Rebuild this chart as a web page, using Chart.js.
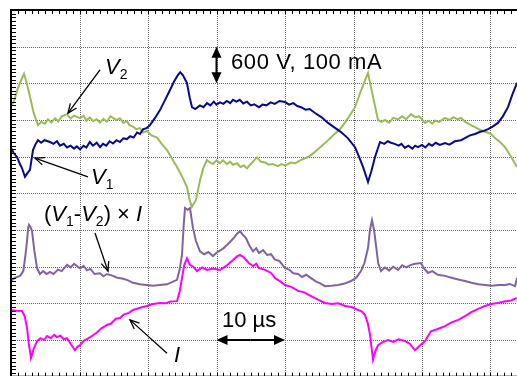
<!DOCTYPE html>
<html>
<head>
<meta charset="utf-8">
<script src="https://cdn.jsdelivr.net/npm/chart.js@4/dist/chart.umd.min.js"></script>
<style>
  html, body { margin: 0; padding: 0; overflow: hidden; background: #fff; }
  #wrap { position: relative; width: 517px; height: 376px; overflow: hidden; }
  #chart { position: absolute; left: 0; top: 0; }
  .lbl { position: absolute; font-family: "Liberation Sans", Arial, sans-serif; font-size: 22px;
         line-height: 1; color: #000; white-space: nowrap; }
  .it { font-style: italic; }
  .sub { font-size: 14px; position: relative; top: 5px; font-style: normal; }
</style>
</head>
<body>
<div id="wrap">
  <canvas id="chart" width="700" height="382"></canvas>
  <div class="lbl" style="left:231px; top:51px; letter-spacing:0.6px;">600 V, 100 mA</div>
  <div class="lbl" style="left:222px; top:309px;">10 µs</div>
  <div class="lbl" style="left:105px; top:56px;"><span class="it">V</span><span class="sub">2</span></div>
  <div class="lbl" style="left:91px; top:166px;"><span class="it">V</span><span class="sub">1</span></div>
  <div class="lbl" style="left:44px; top:203px;">(<span class="it">V</span><span class="sub">1</span>-<span class="it">V</span><span class="sub">2</span>) × <span class="it">I</span></div>
  <div class="lbl it" style="left:174px; top:344px;">I</div>
</div>
<script>
// scope traces: time in µs, amplitude in divisions (0 = screen centre)
const v2Time = [0, 0.5, 0.92, 1.4, 1.9, 2.3, 2.77, 3.3, 3.94, 4.4, 4.96, 5.4, 5.9, 6.42, 6.9, 7.4, 8.18, 8.7, 9.2, 10.07, 10.6, 11.0, 11.5, 12.0, 12.5, 12.99, 13.5, 14.0, 14.5, 14.89, 15.4, 15.9, 16.4, 16.93, 17.3, 17.81, 18.3, 18.8, 19.3, 19.85, 20.5, 21.31, 22.0, 22.77, 23.5, 24.23, 25.0, 25.69, 26.1, 26.42, 27.0, 27.6, 28.1, 28.6, 29.0, 29.49, 30.0, 30.5, 30.95, 31.5, 32.0, 32.4, 33.0, 33.5, 34.0, 34.45, 35.0, 35.5, 35.9, 36.5, 37.1, 37.6, 38.2, 38.98, 39.5, 40.0, 40.88, 41.5, 42.2, 43.36, 44.0, 44.8, 45.84, 47.0, 48.18, 49.2, 50.22, 51.0, 51.68, 52.12, 52.85, 53.58, 54.1, 54.6, 55.2, 55.8, 56.5, 57.1, 57.7, 58.4, 59.0, 59.6, 60.44, 61.0, 61.5, 61.9, 62.5, 63.36, 64.0, 64.6, 65.2, 65.69, 66.3, 67.15, 67.8, 68.61, 69.3, 70.07, 70.7, 71.4, 72.12, 73.0, 73.87];
const v2Div = [2.35, 2.55, 2.82, 3.05, 3.26, 3.0, 2.64, 2.2, 1.86, 1.95, 1.9, 2.02, 1.93, 2.05, 1.96, 2.1, 2.16, 2.04, 2.12, 2.05, 2.12, 1.98, 2.07, 1.97, 2.02, 1.93, 2.03, 1.95, 2.1, 2.06, 2.0, 2.05, 1.92, 1.97, 1.86, 1.82, 1.75, 1.78, 1.66, 1.7, 1.58, 1.52, 1.35, 1.18, 0.95, 0.72, 0.45, 0.17, -0.2, -0.37, -0.18, 0.36, 0.7, 0.91, 0.85, 0.8, 0.9, 0.82, 0.9, 0.8, 0.86, 0.78, 0.82, 0.72, 0.76, 0.68, 0.8, 0.9, 0.98, 0.86, 0.84, 0.78, 0.8, 0.74, 0.8, 0.76, 0.84, 0.82, 0.9, 0.99, 1.07, 1.2, 1.37, 1.58, 1.78, 2.05, 2.35, 2.75, 3.09, 3.28, 2.63, 2.0, 1.95, 2.0, 1.93, 2.06, 2.02, 2.1, 2.02, 2.16, 2.08, 2.1, 1.92, 1.98, 1.9, 1.98, 1.95, 2.06, 2.0, 2.08, 2.02, 2.06, 1.95, 1.86, 1.8, 1.72, 1.68, 1.62, 1.5, 1.4, 1.26, 1.0, 0.72];

const v1Time = [0, 0.4, 0.88, 1.3, 1.6, 2.04, 2.4, 2.77, 3.21, 3.6, 3.94, 4.4, 4.9, 5.69, 6.2, 6.7, 7.15, 7.7, 8.18, 8.7, 9.2, 9.6, 10.07, 10.6, 11.0, 11.5, 11.97, 12.5, 13.0, 13.43, 13.9, 14.4, 14.89, 15.4, 15.9, 16.4, 16.93, 17.4, 17.9, 18.4, 18.83, 19.3, 19.8, 20.29, 21.0, 21.75, 22.5, 23.21, 23.8, 24.38, 24.7, 25.11, 25.69, 26.1, 26.42, 26.9, 27.59, 28.1, 28.61, 29.1, 29.6, 30.0, 30.5, 31.0, 31.5, 32.0, 32.41, 32.9, 33.4, 33.9, 34.45, 35.0, 35.5, 36.2, 36.7, 37.3, 37.9, 38.5, 39.2, 40.0, 40.6, 41.2, 41.8, 42.34, 43.0, 43.6, 44.38, 45.3, 46.28, 47.2, 48.18, 49.2, 50.22, 50.8, 51.39, 52.12, 52.6, 53.14, 53.87, 54.5, 55.0, 55.47, 56.0, 56.6, 57.0, 57.5, 58.0, 58.6, 59.0, 59.42, 60.0, 60.5, 61.0, 61.46, 62.0, 62.6, 63.36, 64.0, 64.8, 65.69, 66.4, 67.0, 67.74, 68.5, 69.0, 69.64, 70.3, 71.09, 71.8, 72.55, 73.2, 73.87];
const v1Div = [1.24, 1.1, 0.99, 0.8, 0.69, 0.45, 0.55, 0.64, 1.18, 1.35, 1.45, 1.38, 1.45, 1.4, 1.35, 1.42, 1.3, 1.35, 1.25, 1.3, 1.22, 1.28, 1.2, 1.3, 1.25, 1.4, 1.3, 1.38, 1.26, 1.35, 1.3, 1.42, 1.36, 1.45, 1.4, 1.5, 1.48, 1.56, 1.52, 1.66, 1.62, 1.75, 1.78, 1.86, 2.05, 2.27, 2.55, 2.82, 3.05, 3.23, 3.3, 3.22, 3.01, 2.6, 2.35, 2.3, 2.4, 2.35, 2.46, 2.4, 2.5, 2.42, 2.48, 2.44, 2.52, 2.46, 2.55, 2.5, 2.55, 2.45, 2.5, 2.4, 2.43, 2.35, 2.42, 2.4, 2.48, 2.44, 2.52, 2.49, 2.42, 2.46, 2.38, 2.35, 2.28, 2.3, 2.19, 2.08, 1.92, 1.8, 1.67, 1.5, 1.26, 1.0, 0.72, 0.31, 0.6, 0.99, 1.4, 1.35, 1.42, 1.38, 1.35, 1.3, 1.35, 1.24, 1.3, 1.22, 1.3, 1.26, 1.32, 1.25, 1.35, 1.3, 1.38, 1.32, 1.37, 1.33, 1.42, 1.45, 1.52, 1.58, 1.62, 1.68, 1.7, 1.75, 1.82, 1.92, 2.1, 2.35, 2.7, 3.01];

const powTime = [0, 0.6, 1.31, 1.8, 2.1, 2.34, 2.5, 2.63, 2.85, 3.07, 3.4, 3.8, 4.23, 4.7, 5.2, 5.69, 6.2, 6.86, 7.4, 8.18, 8.7, 9.2, 9.64, 10.1, 10.6, 11.09, 11.6, 12.2, 12.99, 13.5, 14.0, 14.89, 15.5, 16.2, 16.93, 17.8, 18.83, 19.7, 20.73, 21.7, 22.77, 23.5, 24.23, 24.6, 24.96, 25.2, 25.4, 25.8, 26.13, 26.57, 27.0, 27.59, 28.2, 28.8, 29.49, 30.0, 30.6, 31.0, 31.53, 32.0, 32.6, 33.0, 33.43, 33.8, 34.3, 34.8, 35.33, 35.8, 36.2, 36.8, 37.4, 37.96, 38.5, 39.2, 40.0, 40.6, 41.2, 41.9, 42.5, 43.1, 43.8, 44.5, 45.2, 45.84, 46.8, 47.74, 48.7, 49.64, 50.4, 51.09, 51.6, 52.12, 52.4, 52.7, 53.0, 53.28, 53.6, 54.0, 54.6, 55.2, 55.8, 56.5, 57.1, 57.7, 58.39, 59.0, 59.85, 60.3, 60.88, 61.5, 62.3, 63.36, 64.3, 65.3, 66.28, 67.2, 68.2, 69.2, 70.2, 71.2, 72.12, 72.8, 73.58, 73.87];
const powDiv = [-2.39, -2.3, -2.25, -2.12, -1.7, -1.3, -0.95, -0.86, -0.92, -1.03, -1.55, -2.04, -2.2, -2.12, -2.2, -2.14, -2.2, -2.08, -2.12, -1.95, -2.02, -1.92, -1.98, -2.05, -1.98, -2.1, -2.06, -2.2, -2.18, -2.26, -2.2, -2.25, -2.3, -2.32, -2.36, -2.44, -2.48, -2.5, -2.52, -2.5, -2.48, -2.42, -2.36, -2.1, -1.68, -0.9, -0.4, -0.45, -0.4, -0.95, -1.3, -1.58, -1.66, -1.6, -1.71, -1.62, -1.55, -1.5, -1.41, -1.32, -1.2, -1.1, -1.03, -1.12, -1.22, -1.42, -1.58, -1.5, -1.63, -1.55, -1.68, -1.66, -1.8, -1.85, -2.04, -2.08, -2.18, -2.2, -2.28, -2.22, -2.31, -2.4, -2.46, -2.53, -2.52, -2.5, -2.46, -2.39, -2.3, -2.12, -1.9, -1.49, -1.0, -0.73, -1.0, -1.41, -1.9, -2.12, -2.02, -2.1, -2.0, -2.09, -1.96, -2.02, -1.95, -1.92, -1.9, -2.05, -2.17, -2.12, -2.22, -2.25, -2.3, -2.35, -2.39, -2.44, -2.48, -2.5, -2.52, -2.5, -2.5, -2.47, -2.53, -2.31];

const iTime = [0, 0.8, 1.6, 2.0, 2.34, 2.6, 2.92, 3.3, 3.8, 4.3, 4.8, 5.26, 5.8, 6.3, 6.72, 7.2, 7.7, 8.18, 8.7, 9.34, 9.7, 10.07, 10.6, 11.2, 11.97, 12.5, 13.2, 14.01, 14.6, 15.3, 15.91, 16.5, 17.2, 17.81, 18.5, 19.2, 19.85, 20.7, 21.75, 22.5, 23.3, 24.23, 24.6, 24.96, 25.3, 25.69, 26.1, 26.6, 27.15, 27.9, 28.61, 29.5, 30.51, 31.4, 32.41, 33.0, 33.43, 34.0, 34.7, 35.33, 35.8, 36.2, 37.0, 37.96, 38.6, 39.3, 40.0, 40.9, 41.9, 42.8, 43.8, 44.8, 45.84, 46.8, 47.8, 48.76, 49.7, 50.66, 51.2, 51.68, 52.1, 52.41, 52.85, 53.2, 53.58, 54.3, 55.04, 55.8, 56.6, 57.52, 58.2, 58.98, 59.7, 60.44, 61.31, 62.3, 63.36, 64.3, 65.3, 66.28, 67.2, 68.2, 69.2, 70.1, 71.09, 72.0, 73.0, 73.87];
const iDiv = [-3.18, -3.2, -3.21, -3.35, -3.67, -4.1, -4.49, -4.25, -4.03, -3.95, -4.0, -3.89, -3.95, -3.86, -3.92, -3.88, -3.98, -3.95, -4.1, -4.28, -4.18, -4.14, -4.02, -3.96, -3.87, -3.8, -3.68, -3.59, -3.55, -3.42, -3.4, -3.3, -3.26, -3.18, -3.14, -3.1, -3.07, -3.02, -2.99, -3.0, -2.95, -2.94, -2.7, -2.31, -1.95, -1.77, -1.95, -2.0, -2.12, -2.02, -2.09, -2.05, -2.09, -1.98, -1.82, -1.72, -1.68, -1.75, -1.9, -1.98, -1.92, -2.04, -2.08, -2.17, -2.32, -2.4, -2.5, -2.55, -2.66, -2.7, -2.8, -2.9, -2.99, -3.02, -3.0, -3.07, -3.1, -3.18, -3.22, -3.32, -3.55, -3.86, -4.54, -4.3, -4.14, -4.05, -4.0, -4.05, -3.98, -4.03, -4.1, -4.28, -4.15, -4.03, -3.76, -3.7, -3.62, -3.52, -3.45, -3.35, -3.24, -3.15, -3.07, -3.02, -2.99, -2.95, -2.92, -2.85];

// screen: 10 x 10 divisions, 10 µs per division
const xDivs = [0, 10, 20, 30, 40, 50, 60, 70, 80, 90, 100];
const yDivs = [-5, -4, -3, -2, -1, 0, 1, 2, 3, 4, 5];

function pts(ts, vs) {
    return ts.map((t, i) => ({ x: t, y: vs[i] }));
}

// dotted graticule + frame with minor ticks
const graticule = {
    id: 'graticule',
    beforeDatasetsDraw(chart) {
        const { ctx, chartArea: a, scales: { x, y } } = chart;
        ctx.save();
        ctx.strokeStyle = '#666';
        ctx.lineWidth = 1;
        ctx.setLineDash([1, 1]);
        xDivs.slice(1, -1).forEach(t => {
            const px = Math.round(x.getPixelForValue(t)) + 0.5;
            ctx.beginPath(); ctx.moveTo(px, a.top); ctx.lineTo(px, a.bottom); ctx.stroke();
        });
        yDivs.slice(1, -1).forEach(v => {
            const py = Math.round(y.getPixelForValue(v)) + 0.5;
            ctx.beginPath(); ctx.moveTo(a.left, py); ctx.lineTo(a.right, py); ctx.stroke();
        });
        ctx.restore();
    },
    afterDatasetsDraw(chart) {
        const { ctx, chartArea: a, scales: { x, y } } = chart;
        ctx.save();
        ctx.strokeStyle = '#000';
        ctx.lineWidth = 1;
        for (let t = 1; t < 100; t++) {
            const px = Math.round(x.getPixelForValue(t)) + 0.5;
            ctx.beginPath(); ctx.moveTo(px, a.top); ctx.lineTo(px, a.top + 4); ctx.stroke();
            ctx.beginPath(); ctx.moveTo(px, a.bottom); ctx.lineTo(px, a.bottom - 4); ctx.stroke();
        }
        for (let k = -49; k < 50; k++) {
            const py = Math.round(y.getPixelForValue(k / 10)) + 0.5;
            ctx.beginPath(); ctx.moveTo(a.left, py); ctx.lineTo(a.left + 5, py); ctx.stroke();
            ctx.beginPath(); ctx.moveTo(a.right, py); ctx.lineTo(a.right - 5, py); ctx.stroke();
        }
        ctx.lineWidth = 2;
        ctx.strokeRect(a.left, a.top, a.right - a.left, a.bottom - a.top);
        ctx.restore();
    }
};

// annotation arrows, in (µs, div)
const openArrows = [
    [[12.99, 3.37], [8.32, 2.19]],
    [[11.24, 0.45], [3.5, 0.96]],
    [[12.26, -1.08], [14.16, -2.12]],
    [[22.77, -4.36], [17.37, -3.45]]
];
const solidArrows = [
    [[30, 3.5], [30, 4]], [[30, 3.5], [30, 3]],
    [[35, -4], [30, -4]], [[35, -4], [40, -4]]
];

const arrows = {
    id: 'arrows',
    afterDraw(chart) {
        const { ctx, scales: { x, y } } = chart;
        ctx.save();
        ctx.strokeStyle = '#000';
        ctx.fillStyle = '#000';
        openArrows.forEach(([p, q]) => {
            const x0 = x.getPixelForValue(p[0]), y0 = y.getPixelForValue(p[1]);
            const x1 = x.getPixelForValue(q[0]), y1 = y.getPixelForValue(q[1]);
            const ang = Math.atan2(y1 - y0, x1 - x0);
            ctx.lineWidth = 1.3;
            ctx.beginPath(); ctx.moveTo(x0, y0); ctx.lineTo(x1, y1); ctx.stroke();
            ctx.beginPath();
            ctx.moveTo(x1 - 10 * Math.cos(ang - 0.4), y1 - 10 * Math.sin(ang - 0.4));
            ctx.lineTo(x1, y1);
            ctx.lineTo(x1 - 10 * Math.cos(ang + 0.4), y1 - 10 * Math.sin(ang + 0.4));
            ctx.stroke();
        });
        solidArrows.forEach(([p, q]) => {
            const x0 = x.getPixelForValue(p[0]), y0 = y.getPixelForValue(p[1]);
            const x1 = x.getPixelForValue(q[0]), y1 = y.getPixelForValue(q[1]);
            const ang = Math.atan2(y1 - y0, x1 - x0);
            ctx.lineWidth = 2;
            ctx.beginPath(); ctx.moveTo(x0, y0);
            ctx.lineTo(x1 - 8 * Math.cos(ang), y1 - 8 * Math.sin(ang)); ctx.stroke();
            ctx.beginPath();
            ctx.moveTo(x1, y1);
            ctx.lineTo(x1 - 11 * Math.cos(ang) + 5 * Math.sin(ang), y1 - 11 * Math.sin(ang) - 5 * Math.cos(ang));
            ctx.lineTo(x1 - 11 * Math.cos(ang) - 5 * Math.sin(ang), y1 - 11 * Math.sin(ang) + 5 * Math.cos(ang));
            ctx.closePath(); ctx.fill();
        });
        ctx.restore();
    }
};

const ctx = document.getElementById('chart').getContext('2d');
const chart = new Chart(ctx, {
    type: 'line',
    data: {
        datasets: [
            { label: 'I', data: pts(iTime, iDiv), borderColor: '#ff00ff' },
            { label: '(V1-V2)xI', data: pts(powTime, powDiv), borderColor: '#8064a2' },
            { label: 'V1', data: pts(v1Time, v1Div), borderColor: '#0a0a86' },
            { label: 'V2', data: pts(v2Time, v2Div), borderColor: '#9bbb59' }
        ]
    },
    options: {
        responsive: false,
        animation: false,
        layout: { padding: { left: 11, top: 10, right: 4, bottom: 5.3 } },
        elements: {
            point: { radius: 0 },
            line: { borderWidth: 2, tension: 0, fill: false }
        },
        plugins: { legend: { display: false }, tooltip: { enabled: false } },
        scales: {
            x: { type: 'linear', min: 0, max: 100, display: false },
            y: { type: 'linear', min: -5, max: 5, display: false }
        }
    },
    plugins: [graticule, arrows]
});
</script>
</body>
</html>
